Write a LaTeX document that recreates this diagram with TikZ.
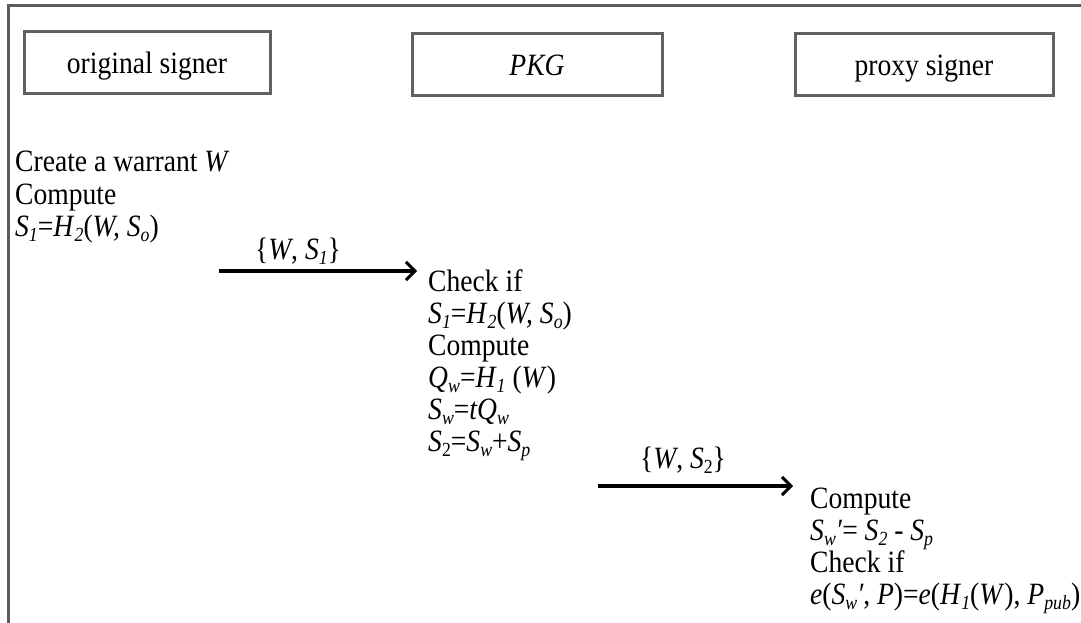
\documentclass[tikz,border=0pt]{standalone}
\usepackage{fontspec}
\setmainfont{Liberation Serif}[FakeStretch=0.89]
\usetikzlibrary{arrows.meta}
\newcommand\sbx[1]{\raisebox{-0.17em}{\fontsize{20}{20}\selectfont\itshape #1}}
\newcommand\sbu[1]{\raisebox{-0.17em}{\fontsize{20}{20}\selectfont #1}}
\begin{document}
\begin{tikzpicture}[x=1pt,y=-1pt,
  every node/.style={font=\fontsize{31}{32}\selectfont, inner sep=0pt},
  frame/.style={draw=black!64, line width=3pt},
  actor/.style={draw=black!62, line width=3pt, minimum width=#1, minimum height=62pt,
    text height=22pt, text depth=0pt},
  ln/.style={anchor=base west},
  msg/.style={line width=3.2pt, -{Straight Barb[length=9pt,width=18pt,line width=3pt]}},
  lbl/.style={anchor=base}]
\useasboundingbox (0,0) rectangle (1081,623);
\fill[white] (0,0) rectangle (1081,623);
\draw[frame] (8,640) -- (8,6) -- (1100,6);

\node[actor=246pt] (os) at (147,63) {original signer};
\node[actor=250pt] (pkg) at (537,65) {\textit{PKG}};
\node[actor=258pt] (ps) at (924,65) {proxy signer};

% original signer block
\node[ln] (a1) at (15,171) {Create a warrant \textit{W}};
\node[ln] (a2) at (15,204) {Compute};
\node[ln] (a3) at (15,236) {\textit{S}\sbx{1}=\textit{H}\sbx{2}(\textit{W, S}\sbx{o})};

% PKG block
\node[ln] (b1) at (428,291) {Check if};
\node[ln] (b2) at (428,323) {\textit{S}\sbx{1}=\textit{H}\sbx{2}(\textit{W, S}\sbx{o})};
\node[ln] (b3) at (428,355) {Compute};
\node[ln] (b4) at (428,387) {\textit{Q}\sbx{w}=\textit{H}\sbx{1} (\textit{W})};
\node[ln] (b5) at (428,419) {\textit{S}\sbx{w}=\textit{tQ}\sbx{w}};
\node[ln] (b6) at (428,451) {\textit{S}\sbu{2}=\textit{S}\sbx{w}+\textit{S}\sbx{p}};

% proxy signer block
\node[ln] (c1) at (810,508) {Compute};
\node[ln] (c2) at (810,540) {\textit{S}\sbx{w}\textit{′}= \textit{S}\sbx{2} - \textit{S}\sbx{p}};
\node[ln] (c3) at (810,572) {Check if};
\node[ln] (c4) at (810,604) {\textit{e}(\textit{S}\sbx{w}\textit{′}, \textit{P})=\textit{e}(\textit{H}\sbx{1}(\textit{W}), \textit{P}\sbx{pub})};

% messages
\coordinate (m1s) at (219,271);
\coordinate (m1e) at (417,271);
\draw[msg] (m1s) -- (m1e);
\node[lbl] (m1l) at (298,259) {\{\textit{W}, \textit{S}\sbx{1}\}};

\coordinate (m2s) at (598,486);
\coordinate (m2e) at (793,486);
\draw[msg] (m2s) -- (m2e);
\node[lbl] (m2l) at (683,468) {\{\textit{W}, \textit{S}\sbu{2}\}};
\end{tikzpicture}
\end{document}
